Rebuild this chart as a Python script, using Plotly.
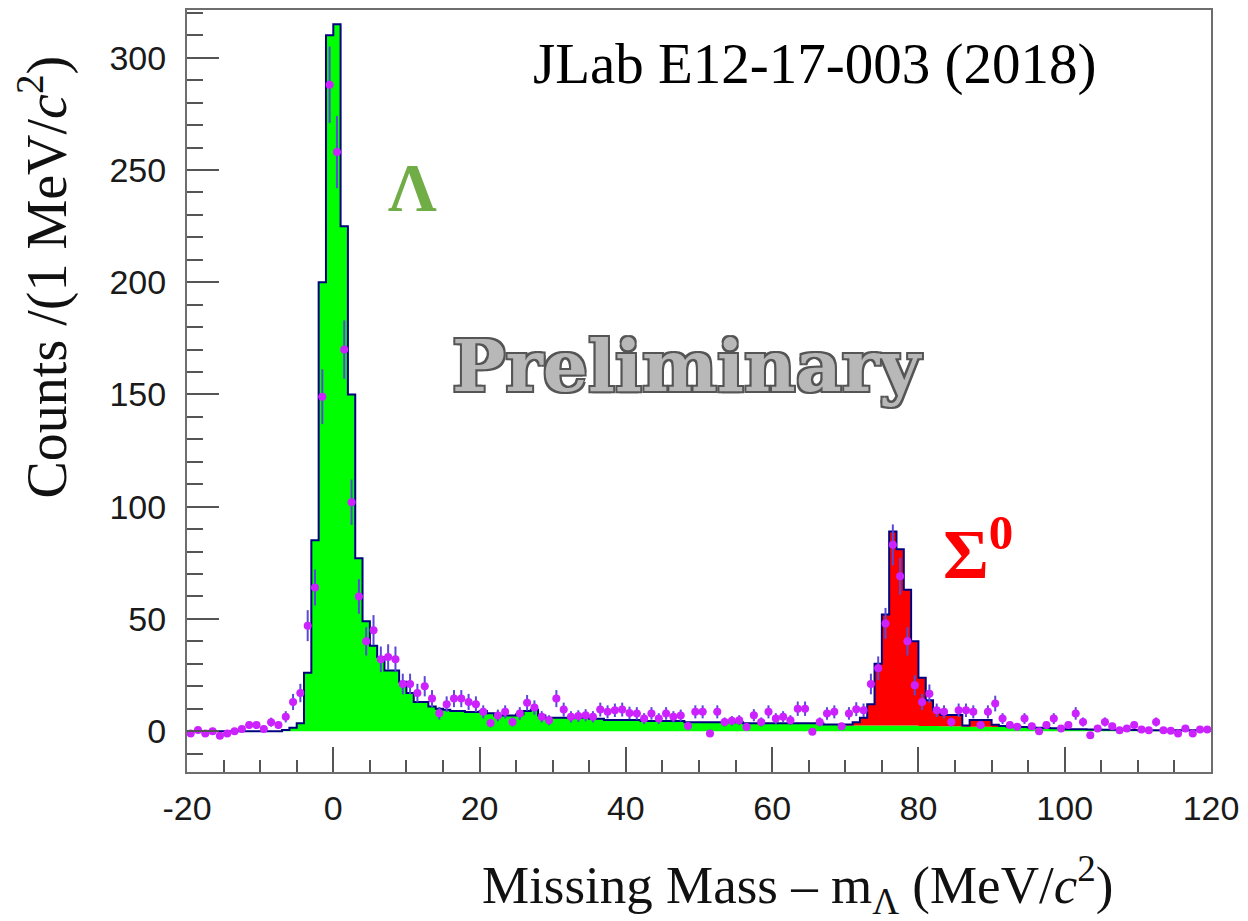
import numpy as np
import plotly.graph_objects as go

# ---------------- data (1 MeV bins, lower edges -20 ... 119) ----------------
bin_low_edges = list(range(-20, 120))

# magenta data points (counts per bin)
data_counts = [
    -1, 0.5, -1, 0, -2, -1, 0, 1, 2.7, 2.7,            # -20 .. -11
    1, 4, 2.7, 6.4, 13, 17, 47, 64, 149, 288,          # -10 .. -1
    258, 170, 102, 60, 40, 45, 32, 33, 32, 21,         # 0 .. 9
    21, 17, 20, 14.5, 8, 12, 14.5, 14.5, 13, 12,       # 10 .. 19
    8.6, 3.6, 7, 8.6, 4.1, 7.9, 12.6, 10.5, 6.4, 4.9,  # 20 .. 29
    14.5, 9.6, 6.4, 6.7, 7.1, 6.4, 9.6, 8.6, 9.3, 9.6, # 30 .. 39
    8.1, 7.9, 5.6, 7.9, 5.6, 7.9, 6.4, 7, 2.3, 8.6,    # 40 .. 49
    8.6, -1, 8.6, 4.1, 4.6, 4.9, 1.9, 7.1, 4.1, 8.6,   # 50 .. 59
    5.6, 6.4, 4.9, 10, 10, -0.3, 4.1, 7.9, 8.6, 2.2,   # 60 .. 69
    7.9, 9.8, 9.3, 21, 28, 48, 83, 69, 40, 20.4,       # 70 .. 79
    13, 16.7, 9.3, 8.6, 4.1, 9.3, 9.3, 8.6, 2.7, 8.6,  # 80 .. 89
    12.3, 5.6, 2.7, 2, 5.6, 2.2, 0, 2.7, 5.6, 1.2,     # 90 .. 99
    2.7, 7.9, 4.1, -1.8, 1.2, 4.1, 2.2, 0.4, 1.2, 2.7, # 100 .. 109
    0.7, 0.4, 4.1, 0.4, 0.2, -1, 1.2, -1, 0.7, 0.7,    # 110 .. 119
]

# statistical errors of the data points
data_errors = [
    1.4, 1.4, 1.4, 1.4, 1.4, 1.4, 1.4, 1.4, 1.6, 1.6,
    1.4, 2.0, 1.6, 2.5, 3.6, 4.1, 6.9, 8.0, 12.2, 17.0,
    16.1, 13.0, 10.1, 7.7, 6.3, 6.7, 5.7, 5.7, 5.7, 4.6,
    4.6, 4.1, 4.5, 3.8, 2.8, 3.5, 3.8, 3.8, 3.6, 3.5,
    2.9, 1.9, 2.6, 2.9, 2.0, 2.8, 3.5, 3.2, 2.5, 2.2,
    3.8, 3.1, 2.5, 2.6, 2.7, 2.5, 3.1, 2.9, 3.0, 3.1,
    2.8, 2.8, 2.4, 2.8, 2.4, 2.8, 2.5, 2.6, 1.5, 2.9,
    2.9, 1.4, 2.9, 2.0, 2.1, 2.2, 1.4, 2.7, 2.0, 2.9,
    2.4, 2.5, 2.2, 3.2, 3.2, 1.4, 2.0, 2.8, 2.9, 1.5,
    2.8, 3.1, 3.0, 4.6, 5.3, 6.9, 9.1, 8.3, 6.3, 4.5,
    3.6, 4.1, 3.0, 2.9, 2.0, 3.0, 3.0, 2.9, 1.6, 2.9,
    3.5, 2.4, 1.6, 1.4, 2.4, 1.5, 1.4, 1.6, 2.4, 1.4,
    1.6, 2.8, 2.0, 1.4, 1.4, 2.0, 1.5, 1.4, 1.4, 1.6,
    1.4, 1.4, 2.0, 1.4, 1.4, 1.4, 1.4, 1.4, 1.4, 1.4,
]

# simulated Lambda contribution (green histogram)
lambda_sim = [
    0, 0, 0, 0, 0, 0, 0, 0, 0, 0,
    0, 0, 0, 0.5, 1.5, 3.5, 26, 85, 200, 310,
    315, 225, 150, 77, 49, 38, 33, 27, 27, 22,
    17, 13, 13, 11, 10, 9.5, 9, 9, 8.5, 8.5,
    9, 8, 7, 7, 7, 7.5, 9, 9.5, 7, 6,
    6, 6, 6, 6, 6, 5.5, 5.5, 5, 5, 5,
    5, 5, 4.5, 4.5, 4.5, 4.5, 4.5, 4.5, 4, 4,
    4, 4, 4, 4, 4, 4, 3.5, 3.5, 3.5, 3.5,
    3.5, 3.5, 3.5, 3.5, 3.5, 3.5, 3.5, 3, 3, 3,
    2.5, 2.5, 2.5, 2.5, 2.5, 2.5, 2.5, 2.5, 2.5, 2.5,
    2.3, 2.3, 2.3, 2.2, 2.2, 2.2, 2, 2, 2, 2,
    1.8, 1.8, 1.6, 1.5, 1.4, 1.3, 1.2, 1.1, 1, 1,
    0.9, 0.8, 0.8, 0.7, 0.7, 0.6, 0.6, 0.5, 0.5, 0.5,
    0.4, 0.4, 0.4, 0.4, 0.4, 0.4, 0.4, 0.4, 0.4, 0.4,
]

# simulated Sigma0 contribution (red histogram, stacked on the green one)
sigma_sim = [0] * 90 + [
    0.5, 1.5, 3.5, 9.5, 27.5, 49.5, 86.5, 78.5, 60.5, 37.5,   # 70 .. 79
    21.5, 11.5, 7, 5, 5, 5, 0.5, 3, 3, 3,                    # 80 .. 89
    1, 0.5, 0.5, 0.5, 0.5, 0.3, 0.3, 0.3, 0.3, 0.3,          # 90 .. 99
] + [0] * 20

x_tick_vals = [-20, 0, 20, 40, 60, 80, 100, 120]
y_tick_vals = [0, 50, 100, 150, 200, 250, 300]

# ---------------- derived arrays ----------------
lo = np.array(bin_low_edges, dtype=float)
centers = lo + 0.5
edges = np.append(lo, lo[-1] + 1)
lam = np.array(lambda_sim, dtype=float)
tot = lam + np.array(sigma_sim, dtype=float)
lam_ext = np.append(lam, lam[-1])
tot_ext = np.append(tot, tot[-1])

fig = go.Figure()

fig.add_trace(go.Scatter(
    x=edges, y=lam_ext, mode="lines", line=dict(shape="hv", width=0, color="rgba(0,0,0,0)"),
    fill="tozeroy", fillcolor="#00ff00", hoverinfo="skip", showlegend=False))

fig.add_trace(go.Scatter(
    x=edges, y=tot_ext, mode="lines", line=dict(shape="hv", width=2, color="#000080"),
    fill="tonexty", fillcolor="#ff0000", hoverinfo="skip", showlegend=False))

fig.add_trace(go.Scatter(
    x=centers, y=data_counts, mode="markers",
    marker=dict(color="#cc22ff", size=8, line=dict(width=0)),
    error_y=dict(type="data", array=data_errors, visible=True, color="#5a48d8",
                 thickness=2, width=0),
    error_x=dict(type="constant", value=0.5, visible=True, color="#cc22ff",
                 thickness=2, width=0),
    showlegend=False))

axis_font = dict(family="Liberation Sans, Arial, sans-serif", size=34, color="#1a1a1a")

fig.update_xaxes(
    range=[-20, 120], tickvals=x_tick_vals, ticktext=[str(v) for v in x_tick_vals],
    ticks="inside", ticklen=25, tickwidth=1.5, tickcolor="#555",
    minor=dict(dtick=5, ticks="inside", ticklen=12, tickwidth=1.5, tickcolor="#555"),
    showline=True, linecolor="#6e6e6e", linewidth=2, mirror=True,
    showgrid=False, zeroline=False, tickfont=axis_font, ticklabelstandoff=5)

fig.update_yaxes(
    range=[-18.2, 321.3], tickvals=y_tick_vals,
    ticks="inside", ticklen=32, tickwidth=1.5, tickcolor="#555",
    minor=dict(dtick=10, ticks="inside", ticklen=16, tickwidth=1.5, tickcolor="#555"),
    showline=True, linecolor="#6e6e6e", linewidth=2, mirror=True,
    showgrid=False, zeroline=False, tickfont=axis_font, ticklabelstandoff=12)

serif = "Liberation Serif, Times New Roman, serif"

annotations = [
    dict(text="JLab E12-17-003 (2018)", x=0.613, y=0.929, xref="paper", yref="paper",
         xanchor="center", yanchor="middle", showarrow=False,
         font=dict(family=serif, size=57, color="#000000")),
    dict(text="<b>Λ</b>", x=0.2207, y=0.768, xref="paper", yref="paper",
         xanchor="center", yanchor="middle", showarrow=False,
         font=dict(family=serif, size=68, color="#70ad47")),
    dict(text="<b>Σ<sup>0</sup></b>", x=0.772, y=0.292, xref="paper", yref="paper",
         xanchor="center", yanchor="middle", showarrow=False,
         font=dict(family=serif, size=70, color="#ff0000")),
    dict(text="<b>Preliminary</b>", x=0.488, y=0.533, xref="paper", yref="paper",
         xanchor="center", yanchor="middle", showarrow=False,
         font=dict(family="DejaVu Serif, serif", size=71, color="#b8b8b8",
                   shadow="2px 2px 0 #555, -2px -2px 0 #555, 2px -2px 0 #555, -2px 2px 0 #555")),
    dict(text="Counts /(1 MeV/<i>c</i><sup>2</sup>)", x=-0.1396, y=0.649, xref="paper", yref="paper",
         xanchor="center", yanchor="middle", textangle=-90, showarrow=False,
         font=dict(family=serif, size=56, color="#111111")),
    dict(text="Missing Mass – m<sub>Λ</sub> (MeV/<i>c</i><sup>2</sup>)", x=0.906, y=-0.148,
         xref="paper", yref="paper", xanchor="right", yanchor="middle", showarrow=False,
         font=dict(family=serif, size=53, color="#111111")),
]

fig.update_layout(
    width=1248, height=921,
    margin=dict(l=187, r=37, t=8, b=149),
    paper_bgcolor="white", plot_bgcolor="white",
    annotations=annotations, showlegend=False)

fig.write_html("out.html")
